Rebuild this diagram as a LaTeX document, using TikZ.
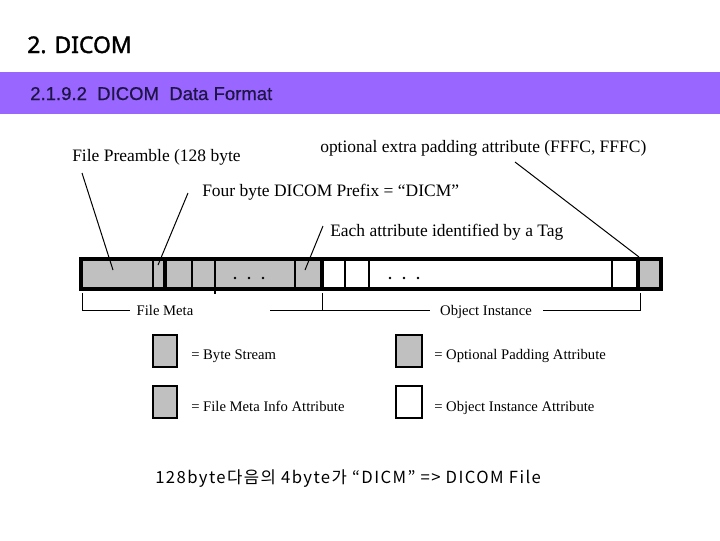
\documentclass[tikz,border=0pt]{standalone}
\usepackage{fontspec}
\setmainfont{Liberation Serif}
\newfontfamily\hdfont[FakeBold=1.6]{Noto Sans}
\newfontfamily\arialfont[FakeBold=0.6]{Liberation Sans}
\newfontfamily\krfont[LetterSpace=8.5]{Noto Sans CJK KR}
\definecolor{band}{RGB}{153,102,255}
\definecolor{bandtext}{RGB}{30,20,70}
\definecolor{cellgray}{RGB}{192,192,192}
\begin{document}
\begin{tikzpicture}[x=0.75pt,y=-0.75pt,
  lbl/.style={inner sep=0pt,anchor=base west,font=\fontsize{13.1}{15}\selectfont},
  small/.style={inner sep=0pt,anchor=base west,font=\fontsize{11}{13}\selectfont},
  pointer/.style={line width=0.75pt},
  thin/.style={line width=0.8pt},
  thick/.style={line width=3pt},
  legbox/.style={draw,line width=0.9pt}]
\useasboundingbox (0,0) rectangle (720,540);
% header
\node[inner sep=0pt,anchor=base west,font=\hdfont\fontsize{17.2}{20}\selectfont] (title) at (27,53) {2. DICOM};
\fill[band] (0,72) rectangle (720,114);
\node[inner sep=0pt,anchor=base west,text=bandtext,font=\arialfont\fontsize{13.9}{16}\selectfont] (sub) at (30,100) {2.1.9.2\ \ DICOM\ \ Data Format};
% bar fills
\fill[cellgray] (81,259) rectangle (322,289);
\fill[cellgray] (638,259) rectangle (661,289);
% dividers
\foreach \x in {153,192,215,295,345,369,612} \draw[thin] (\x,259) -- (\x,289);
\foreach \x in {165,322,638} \draw[thick] (\x,259) -- (\x,289);
\draw[thick] (81,259) rectangle (661,289);
\draw[thin] (215,289) -- (215,294);
% dots
\foreach \x in {235,249,263,390,404,418} \fill (\x,278) circle (1.3);
% labels above
\node[lbl] (pre) at (72,161) {File Preamble (128 byte};
\node[lbl] (prefix) at (202,196) {Four byte DICOM Prefix = “DICM”};
\node[lbl] (tag) at (330,236) {Each attribute identified by a Tag};
\node[lbl] (pad) at (320,152) {optional extra padding attribute (FFFC, FFFC)};
% pointer coordinates
\coordinate (preA) at (82,173);   \coordinate (preB) at (113,270);
\coordinate (prefixA) at (188,193); \coordinate (prefixB) at (158,265);
\coordinate (tagA) at (323,226);  \coordinate (tagB) at (305,270);
\coordinate (padA) at (515,162);  \coordinate (padB) at (639,257);
\draw[pointer] (preA) -- (preB);
\draw[pointer] (prefixA) -- (prefixB);
\draw[pointer] (tagA) -- (tagB);
\draw[pointer] (padA) -- (padB);
% brackets
\node[small,anchor=base] (fm) at (165,315) {File Meta};
\node[small,anchor=base] (oi) at (486,315) {Object Instance};
\draw[pointer] (82,293) -- (82,310) -- (130,310);
\draw[pointer] (270,310) -- (430,310);
\draw[pointer] (322,293) -- (322,310);
\draw[pointer] (543,310) -- (640,310) -- (640,293);
% legend
\draw[legbox,fill=cellgray] (153,335) rectangle (177,367);
\draw[legbox,fill=cellgray] (153,386) rectangle (177,418);
\draw[legbox,fill=cellgray] (396,335) rectangle (422,367);
\draw[legbox,fill=white] (396,386) rectangle (422,418);
\node[small] (l1) at (191,359) {= Byte Stream};
\node[small] (l2) at (191,411) {= File Meta Info Attribute};
\node[small] (l3) at (434,359) {= Optional Padding Attribute};
\node[small] (l4) at (434,411) {= Object Instance Attribute};
% bottom note
\node[inner sep=0pt,anchor=base west,font=\krfont\fontsize{12.5}{14}\selectfont] (note) at (155,483) {128byte다음의 4byte가 “DICM” => DICOM File};
\end{tikzpicture}
\end{document}
